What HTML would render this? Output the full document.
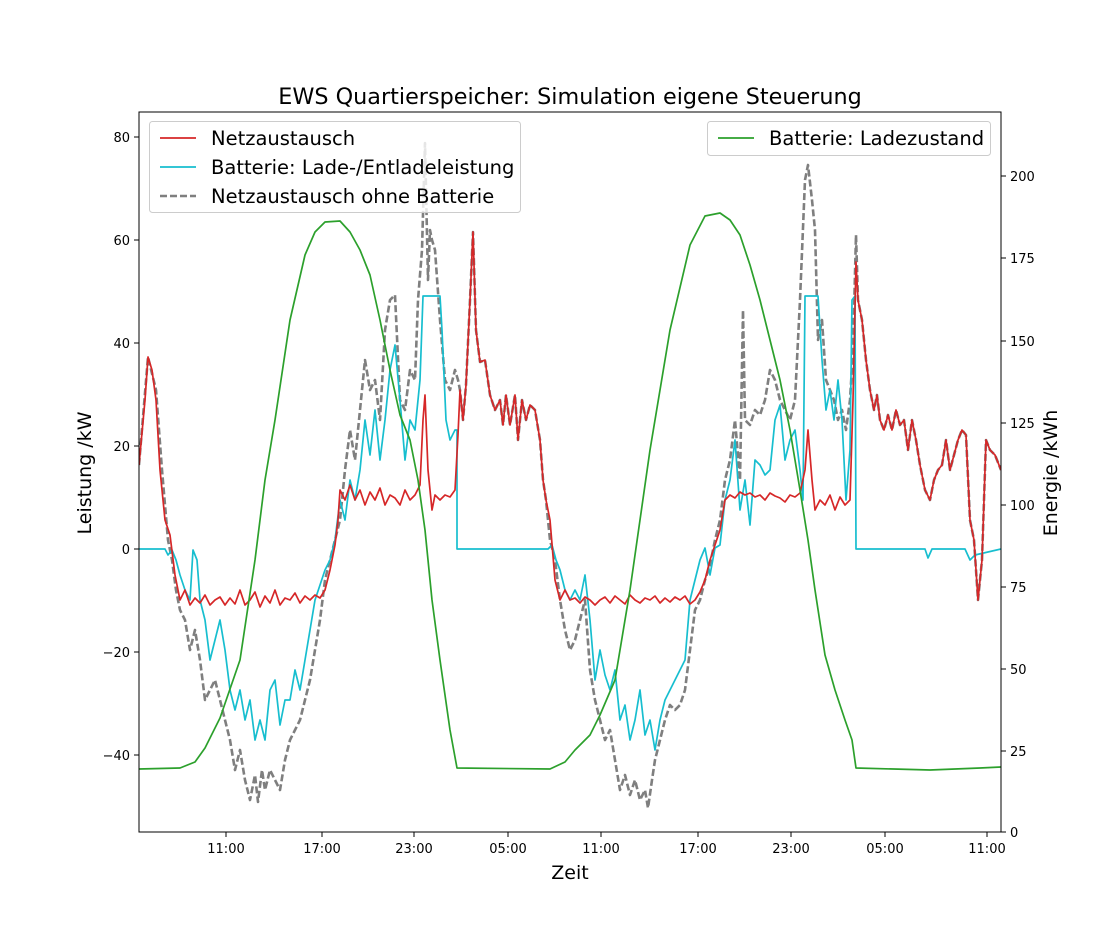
<!DOCTYPE html>
<html><head><meta charset="utf-8"><style>
html,body{margin:0;padding:0;background:#fff;}
svg{display:block;font-family:"DejaVu Sans","Liberation Sans",sans-serif;}
</style></head><body>
<svg id="s" width="1112" height="936" viewBox="0 0 1112 936" xmlns="http://www.w3.org/2000/svg">
<rect width="1112" height="936" fill="#fff"/>
<text x="570" y="104" font-size="22.3" text-anchor="middle">EWS Quartierspeicher: Simulation eigene Steuerung</text>
<defs><clipPath id="c"><rect x="139" y="112" width="862" height="720"/></clipPath></defs>
<g clip-path="url(#c)" fill="none" stroke-linejoin="round">
<polyline id="gray" stroke="#7f7f7f" stroke-width="2.6" stroke-dasharray="7,3"/>
<polyline id="cyan" stroke="#17becf" stroke-width="1.7"/>
<polyline id="red" stroke="#d62728" stroke-width="1.7"/>
<polyline id="green" stroke="#2ca02c" stroke-width="1.7"/>
</g>
<rect x="139" y="112" width="862" height="720" fill="none" stroke="#000" stroke-width="1"/>
<g font-size="13" fill="#000">
<g stroke="#000"><line x1="134" x2="139" y1="137" y2="137"/><line x1="134" x2="139" y1="240" y2="240"/><line x1="134" x2="139" y1="343" y2="343"/><line x1="134" x2="139" y1="446" y2="446"/><line x1="134" x2="139" y1="549" y2="549"/><line x1="134" x2="139" y1="652" y2="652"/><line x1="134" x2="139" y1="755" y2="755"/></g>
<g text-anchor="end"><text x="130" y="142">80</text><text x="130" y="245">60</text><text x="130" y="348">40</text><text x="130" y="451">20</text><text x="130" y="554">0</text><text x="130" y="657">−20</text><text x="130" y="760">−40</text></g>
<g stroke="#000"><line x1="1001" x2="1006" y1="832" y2="832"/><line x1="1001" x2="1006" y1="751" y2="751"/><line x1="1001" x2="1006" y1="669" y2="669"/><line x1="1001" x2="1006" y1="587" y2="587"/><line x1="1001" x2="1006" y1="505" y2="505"/><line x1="1001" x2="1006" y1="423" y2="423"/><line x1="1001" x2="1006" y1="341" y2="341"/><line x1="1001" x2="1006" y1="258" y2="258"/><line x1="1001" x2="1006" y1="176" y2="176"/></g>
<g><text x="1010" y="837">0</text><text x="1010" y="756">25</text><text x="1010" y="674">50</text><text x="1010" y="592">75</text><text x="1010" y="510">100</text><text x="1010" y="428">125</text><text x="1010" y="346">150</text><text x="1010" y="263">175</text><text x="1010" y="181">200</text></g>
<g stroke="#000"><line x1="226" x2="226" y1="832" y2="837"/><line x1="322" x2="322" y1="832" y2="837"/><line x1="414" x2="414" y1="832" y2="837"/><line x1="508" x2="508" y1="832" y2="837"/><line x1="601" x2="601" y1="832" y2="837"/><line x1="698" x2="698" y1="832" y2="837"/><line x1="791" x2="791" y1="832" y2="837"/><line x1="885" x2="885" y1="832" y2="837"/><line x1="987" x2="987" y1="832" y2="837"/></g>
<g text-anchor="middle"><text x="226" y="853">11:00</text><text x="322" y="853">17:00</text><text x="414" y="853">23:00</text><text x="508" y="853">05:00</text><text x="601" y="853">11:00</text><text x="698" y="853">17:00</text><text x="791" y="853">23:00</text><text x="885" y="853">05:00</text><text x="987" y="853">11:00</text></g>
</g>
<text x="570" y="879" font-size="19" text-anchor="middle">Zeit</text>
<text transform="translate(91,473) rotate(-90)" font-size="19" text-anchor="middle">Leistung /kW</text>
<text transform="translate(1057,473) rotate(-90)" font-size="19" text-anchor="middle">Energie /kWh</text>
<rect x="149.5" y="121.5" width="371" height="91" rx="3" fill="#fff" fill-opacity="0.8" stroke="#ccc"/>
<line x1="160" x2="196" y1="138" y2="138" stroke="#d62728" stroke-width="1.7"/>
<line x1="160" x2="196" y1="167" y2="167" stroke="#17becf" stroke-width="1.7"/>
<line x1="160" x2="196" y1="196" y2="196" stroke="#7f7f7f" stroke-width="2.6" stroke-dasharray="7,3"/>
<g font-size="19.5"><text x="211" y="145">Netzaustausch</text><text x="211" y="174">Batterie: Lade-/Entladeleistung</text><text x="211" y="203">Netzaustausch ohne Batterie</text></g>
<rect x="707.5" y="121.5" width="283" height="34" rx="3" fill="#fff" fill-opacity="0.8" stroke="#ccc"/>
<line x1="718" x2="754" y1="138" y2="138" stroke="#2ca02c" stroke-width="1.7"/>
<text x="769" y="145" font-size="19.5">Batterie: Ladezustand</text>
<script>
var redA="139,465 145,400 148,357 152,370 156,400 160,470 165,520 170,535 175,575 180,600 185,590 190,605 195,598 200,603 205,595 210,605 215,600 220,597 225,605 230,598 235,604 240,590 245,605 250,600 255,592 260,607 265,596 270,603 275,590 280,605 285,598 290,600 295,593 300,603 305,596 310,600 315,595 320,598 325,590 330,570 335,545 338,520 340,490 345,500 350,485 355,500 360,490 365,505 370,492 375,500 380,488 385,505 390,495 395,498 400,505 405,490 410,500 415,495 420,485 423,420 425,395 428,470 432,510 435,495 440,500 445,495 450,497 455,490 458,435 460,390 463,420 466,385 470,300 473,232 476,330";
var mid="480,362 485,360 490,395 495,410 500,400 503,425 506,395 510,425 515,395 518,440 522,400 526,420 530,405 535,410 540,440 543,480 546,500";
var redB="550,520 555,580 560,600 565,590 570,600 575,598 580,603 585,597 590,600 595,605 600,600 605,597 610,603 615,596 620,600 625,604 630,595 635,600 640,603 645,598 650,600 655,596 660,603 665,598 670,602 675,597 680,600 685,596 690,604 695,600 700,592 705,580 710,560 715,545 720,530 725,500 730,495 735,498 740,492 745,495 750,493 755,497 760,495 765,500 770,493 775,496 780,498 785,502 790,495 795,497 800,493 805,470 808,430 812,480 815,510 820,500 825,505 830,495 835,510 840,497 845,505 850,500 853,400 856,262";
var tail="858,300 862,320 866,360 870,390 874,410 877,395 880,420 884,430 888,415 892,430 896,410 900,425 904,420 908,450 912,420 916,440 920,465 925,490 930,500 934,480 938,470 942,465 946,440 950,470 954,455 958,440 962,430 966,435 970,520 974,540 978,600 982,560 986,440 990,450 995,455 1001,470";
var cyan="139,549 165,549 168,555 172,550 176,560 180,575 185,590 190,600 193,550 197,560 200,600 205,620 210,660 215,640 220,620 225,650 230,690 235,710 240,690 245,720 250,700 255,740 260,720 265,740 270,690 275,680 280,725 285,700 290,700 295,670 300,690 305,660 310,630 315,600 320,585 325,570 330,560 335,540 340,500 345,520 350,480 355,500 360,470 365,420 370,455 375,410 380,460 385,420 390,370 395,345 400,400 405,460 410,420 415,430 420,380 423,296 440,296 442,330 446,420 450,440 455,430 457,430 457,549 548,549 552,545 556,560 560,570 565,590 570,600 575,590 580,600 585,575 590,620 595,680 600,650 605,675 610,690 615,670 620,720 625,705 630,740 635,720 640,690 645,735 650,720 655,750 660,720 665,700 670,690 675,680 680,670 685,660 690,600 695,580 700,560 705,548 710,575 715,548 720,545 725,500 730,480 735,440 740,510 745,480 750,525 755,460 760,465 765,475 770,470 775,420 780,405 785,460 790,440 795,430 800,470 803,500 805,296 818,296 822,360 826,410 830,390 834,420 838,380 842,420 846,500 850,450 852,300 855,296 856,549 925,549 928,558 932,549 965,549 970,560 975,555 1001,549";
var grayA="139,465 148,357 156,390 162,470 168,540 172,560 176,590 180,610 185,620 190,650 195,630 200,660 205,700 210,690 215,680 220,700 225,720 230,740 235,770 240,750 245,780 250,800 255,775 258,802 262,770 265,790 270,770 275,780 280,790 285,760 290,740 295,730 300,720 305,700 310,680 315,650 320,620 325,580 330,560 335,540 340,520 345,470 350,430 355,460 360,410 365,360 370,390 375,380 380,420 385,330 390,300 395,295 400,400 405,410 410,370 415,380 418,300 422,250 425,143 428,280 430,230 432,240 435,250 440,320 445,380 450,390 455,370 458,380 460,390 463,420 466,385 470,300 473,232 476,330";
var grayB="550,540 555,560 560,600 565,630 570,650 575,640 580,620 585,600 590,670 595,700 600,720 605,740 610,730 615,760 620,790 625,775 630,795 635,780 640,800 645,790 648,808 652,780 655,760 660,740 665,720 670,705 675,710 680,705 685,690 690,650 695,610 700,600 705,580 710,565 715,540 720,520 725,480 730,460 735,420 740,480 743,310 745,420 750,425 755,410 760,415 765,400 770,370 775,380 780,400 785,410 790,420 795,400 800,300 805,180 808,165 812,200 815,230 818,340 822,320 826,380 830,390 834,400 838,420 842,410 846,430 850,400 853,350 856,235";
var green="139,769 180,768 195,762 205,748 220,718 240,660 255,560 265,480 275,420 290,320 305,255 315,232 325,222 340,221 350,232 360,250 370,275 380,320 390,370 400,415 410,440 418,480 425,530 432,600 440,660 450,730 457,768 550,769 565,762 575,750 590,735 600,715 615,680 630,590 650,450 670,330 690,245 705,216 720,213 730,220 740,235 750,265 760,300 770,340 780,380 790,430 800,490 808,540 815,590 825,655 835,690 845,720 852,740 856,768 930,770 980,768 1001,767";
function s(id,p){document.getElementById(id).setAttribute("points",p);}
s("red",redA+" "+mid+" "+redB+" "+tail);
s("gray",grayA+" "+mid+" "+grayB+" "+tail);
s("cyan",cyan);s("green",green);
</script>
</svg>
</body></html>
